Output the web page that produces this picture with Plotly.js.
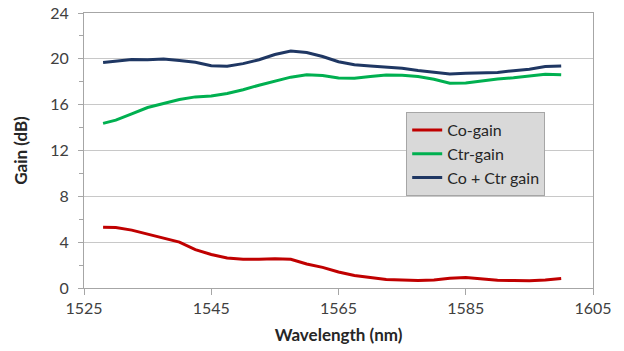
<!DOCTYPE html>
<html>
<head>
<meta charset="utf-8">
<script src="https://cdn.plot.ly/plotly-3.0.1.min.js"></script>
<style>html,body{margin:0;padding:0;background:#fff;}#chart{width:624px;height:351px;}</style>
</head>
<body>
<div id="chart"></div>
<script>
const wavelength = [1528,1530,1532.5,1535,1537.5,1540,1542.5,1545,1547.5,1550,1552.5,1555,1557.5,1560,1562.5,1565,1567.5,1570,1572.5,1575,1577.5,1580,1582.5,1585,1587.5,1590,1592.5,1595,1597.5,1600];
const coGain = [5.3,5.27,5.05,4.7,4.3,4.0,3.35,2.92,2.62,2.5,2.5,2.55,2.5,2.1,1.8,1.4,1.1,0.9,0.75,0.7,0.65,0.7,0.85,0.92,0.8,0.68,0.65,0.63,0.7,0.82];
const ctrGain = [14.37,14.65,15.2,15.75,16.1,16.45,16.68,16.75,16.98,17.3,17.7,18.05,18.4,18.6,18.55,18.32,18.3,18.45,18.58,18.57,18.45,18.22,17.88,17.9,18.1,18.25,18.35,18.47,18.65,18.6];
const coCtrGain = [19.68,19.82,19.95,19.92,19.98,19.85,19.7,19.4,19.35,19.58,19.92,20.38,20.68,20.55,20.2,19.75,19.48,19.38,19.27,19.18,18.98,18.8,18.68,18.74,18.74,18.8,18.97,19.1,19.32,19.37];
const seriesNames = ['Co-gain','Ctr-gain','Co + Ctr gain'];
const seriesColors = ['#c00000','#00b050','#1f3763'];
const xTicks = [1525,1545,1565,1585,1605];
const yTicks = [0,4,8,12,16,20,24];

const ys = [coGain, ctrGain, coCtrGain];
const traces = ys.map((y,i)=>({
  x: wavelength, y: y, type:'scatter', mode:'lines', name: seriesNames[i],
  legendgroup: 'g'+i,
  line:{color: seriesColors[i], width:3}
}));

const font = 'Lato, "Open Sans", sans-serif';
const layout = {
  width:624, height:351,
  margin:{l:84, r:31, t:13, b:63},
  paper_bgcolor:'#fff', plot_bgcolor:'#fff',
  showlegend:true,
  font:{family:font, size:14, color:'#404040'},
  xaxis:{
    range:[1525,1605], tickvals:xTicks, ticktext:xTicks.map(String),
    showgrid:false, zeroline:false,
    showline:true, linecolor:'#a6a6a6', linewidth:1, mirror:true,
    ticks:'outside', ticklen:6, tickcolor:'#a6a6a6',
    tickfont:{family:font, size:16, color:'#404040'},
    title:{text:'<b>Wavelength (nm)</b>', font:{family:font, size:17, color:'#262626'}, standoff:12}
  },
  yaxis:{
    range:[0,24], tickvals:yTicks, ticktext:yTicks.map(String),
    showgrid:true, gridcolor:'#c8c8c8', gridwidth:1, zeroline:false,
    showline:true, linecolor:'#a6a6a6', linewidth:1, mirror:true,
    ticks:'outside', ticklen:5, tickcolor:'#a6a6a6',
    minor:{dtick:2, tick0:0, ticks:'outside', ticklen:4, tickcolor:'#a6a6a6', showgrid:false},
    ticklabelstandoff:6,
    tickfont:{family:font, size:16, color:'#404040'},
    title:{text:'<b>Gain (dB)</b>', font:{family:font, size:17, color:'#262626'}, standoff:18}
  },
  legend:{
    x:0.633, y:0.64, xanchor:'left', yanchor:'top',
    bgcolor:'#d9d9d9', bordercolor:'#a6a6a6', borderwidth:1,
    font:{family:font, size:16, color:'#262626'},
    tracegroupgap:0, itemwidth:30
  }
};
Plotly.newPlot('chart', traces, layout, {displayModeBar:false, staticPlot:true});
</script>
</body>
</html>
